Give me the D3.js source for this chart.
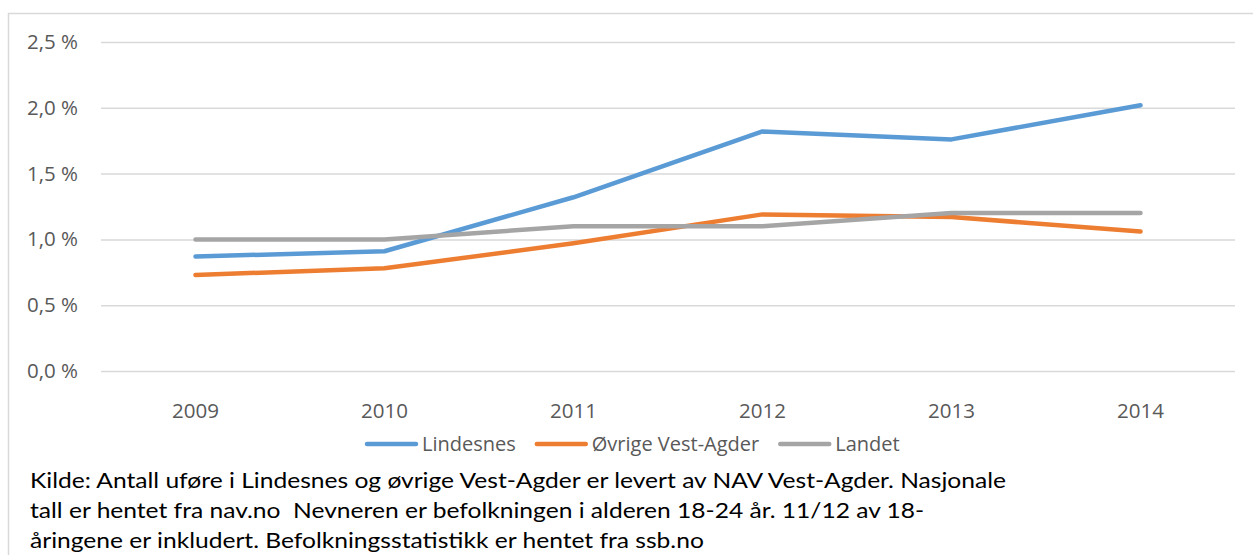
<!DOCTYPE html>
<html>
<head>
<meta charset="utf-8">
<script src="https://cdn.jsdelivr.net/npm/d3@7"></script>
<style>
  body { margin: 0; background: #fff; }
  svg { display: block; }
</style>
</head>
<body>
<div id="chart"></div>
<script>
// data
var years = ["2009", "2010", "2011", "2012", "2013", "2014"];
var lindesnes = [0.87, 0.91, 1.32, 1.82, 1.76, 2.02];
var ovrige = [0.73, 0.78, 0.97, 1.19, 1.17, 1.06];
var landet = [1.0, 1.0, 1.1, 1.1, 1.2, 1.2];
var seriesNames = ["Lindesnes", "Øvrige Vest-Agder", "Landet"];
var yTicks = [0, 0.5, 1.0, 1.5, 2.0, 2.5];
var captionLines = [
  "Kilde: Antall uføre i Lindesnes og øvrige Vest-Agder er levert av NAV Vest-Agder. Nasjonale",
  "tall er hentet fra nav.no  Nevneren er befolkningen i alderen 18-24 år. 11/12 av 18-",
  "åringene er inkludert. Befolkningsstatistikk er hentet fra ssb.no"
];

var svgWidth = 1253;
var svgHeight = 555;
var colors = ["#5B9BD5", "#ED7D31", "#A5A5A5"];

var svg = d3.select("#chart")
  .append("svg")
  .attr("width", svgWidth)
  .attr("height", svgHeight);

// chart area border (cropped at right and bottom)
svg.append("rect")
  .attr("x", 8.5)
  .attr("y", 13.5)
  .attr("width", 1400)
  .attr("height", 700)
  .attr("fill", "none")
  .attr("stroke", "#D9D9D9")
  .attr("stroke-width", 1.5);

var margin = { left: 101, right: 18, top: 42, plotBottom: 371 };

var x = d3.scaleBand()
  .domain(years)
  .range([margin.left, svgWidth - margin.right]);

var y = d3.scaleLinear()
  .domain([0, 2.5])
  .range([margin.plotBottom, margin.top]);

// gridlines + y labels
var yAxis = d3.axisLeft(y)
  .tickValues(yTicks)
  .tickSize(-(svgWidth - margin.right - margin.left))
  .tickPadding(23)
  .tickFormat(function(d) { return d3.format(".1f")(d).replace(".", ",") + " %"; });

var yG = svg.append("g")
  .attr("transform", "translate(" + margin.left + ",0)")
  .call(yAxis);
yG.select(".domain").remove();
yG.selectAll(".tick line")
  .attr("stroke", "#D9D9D9")
  .attr("stroke-width", 1.5);
yG.selectAll(".tick text")
  .attr("fill", "#595959")
  .attr("font-family", "'Open Sans', sans-serif")
  .attr("font-size", "20.5px");

// x labels
var xAxis = d3.axisBottom(x).tickSize(0).tickPadding(0);
var xG = svg.append("g")
  .attr("transform", "translate(0," + 400 + ")")
  .call(xAxis);
xG.select(".domain").remove();
xG.selectAll(".tick text")
  .attr("fill", "#595959")
  .attr("font-family", "'Open Sans', sans-serif")
  .attr("font-size", "20px")
  .attr("textLength", 47)
  .attr("lengthAdjust", "spacingAndGlyphs")
  .attr("dy", "0.9em");

// lines, in series order so Landet ends up on top
var allSeries = [lindesnes, ovrige, landet];
var line = d3.line()
  .x(function(d, i) { return x(years[i]) + x.bandwidth() / 2; })
  .y(function(d) { return y(d); });

allSeries.forEach(function(s, k) {
  svg.append("path")
    .datum(s)
    .attr("d", line)
    .attr("fill", "none")
    .attr("stroke", colors[k])
    .attr("stroke-width", 4.5)
    .attr("stroke-linecap", "round")
    .attr("stroke-linejoin", "round");
});

// legend, laid out left to right
var legend = svg.append("g").attr("transform", "translate(0,444)");
var lx = 365;
seriesNames.forEach(function(name, i) {
  var g = legend.append("g").attr("transform", "translate(" + lx + ",0)");
  g.append("line")
    .attr("x1", 2).attr("x2", 51)
    .attr("y1", 0).attr("y2", 0)
    .attr("stroke", colors[i])
    .attr("stroke-width", 4.5)
    .attr("stroke-linecap", "round");
  var t = g.append("text")
    .attr("x", 57)
    .attr("y", 7)
    .attr("fill", "#595959")
    .attr("font-family", "'Open Sans', sans-serif")
    .attr("font-size", "20px")
    .text(name);
  lx += 57 + t.node().getComputedTextLength() + 19;
});

// caption, fitted so the first line spans the same width as the original
var capTexts = svg.append("g").selectAll("text")
  .data(captionLines)
  .enter()
  .append("text")
  .attr("x", 30)
  .attr("y", function(d, i) { return 488 + i * 30; })
  .attr("fill", "#000")
  .attr("font-family", "Lato, 'Open Sans', sans-serif")
  .attr("font-size", "21px")
  .style("white-space", "pre")
  .text(function(d) { return d; });

var firstW = capTexts.node().getComputedTextLength();
var k = 976 / firstW;
capTexts.each(function() {
  var w = this.getComputedTextLength();
  d3.select(this)
    .attr("textLength", w * k)
    .attr("lengthAdjust", "spacingAndGlyphs");
});
</script>
</body>
</html>
